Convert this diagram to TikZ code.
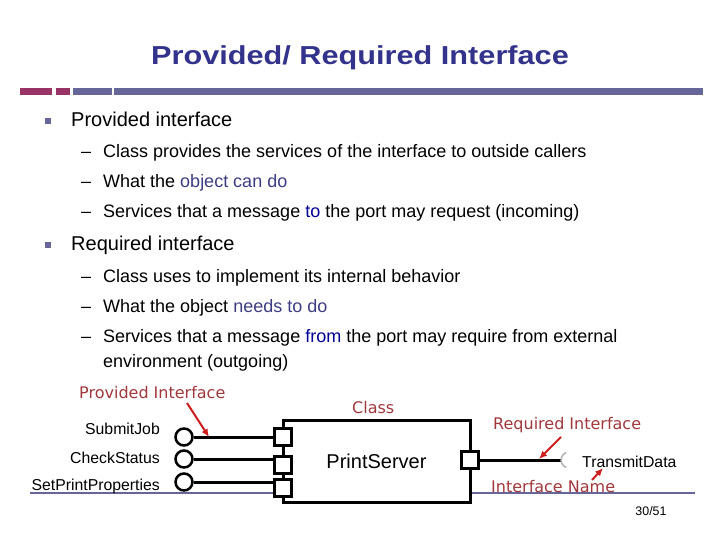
\documentclass[tikz,border=0pt]{standalone}
\usepackage{fontspec}
\setmainfont{Liberation Sans}
\newfontfamily\notefont{DejaVu Sans}
\usetikzlibrary{arrows.meta}
\definecolor{titleblue}{RGB}{51,51,140}
\definecolor{barmagenta}{RGB}{153,51,102}
\definecolor{barslate}{RGB}{102,102,153}
\definecolor{softnavy}{RGB}{60,60,130}
\definecolor{deepnavy}{RGB}{0,0,150}
\definecolor{notered}{RGB}{160,55,60}
\definecolor{pointred}{RGB}{205,30,30}
\newcommand{\objtext}[1]{\textcolor{softnavy}{#1}}
\newcommand{\dirtext}[1]{\textcolor{deepnavy}{#1}}
\newcommand{\subdash}{\makebox[22pt][l]{--}}

\begin{document}
\begin{tikzpicture}[
    x=1pt,y=-1pt,
    heading/.style={anchor=base,text=titleblue,inner sep=0,font=\fontsize{26}{30}\selectfont\bfseries},
    topitem/.style={anchor=base west,inner sep=0,font=\fontsize{20}{24}\selectfont},
    subitem/.style={anchor=base west,inner sep=0,font=\fontsize{18}{22}\selectfont},
    classbox/.style={rectangle,draw,line width=3pt,fill=white,minimum width=187,minimum height=82,
      inner sep=0,font=\fontsize{20}{24}\selectfont},
    port/.style={rectangle,draw,line width=2.5pt,fill=white,minimum size=17,inner sep=0},
    ball/.style={circle,draw,line width=2.5pt,fill=white,minimum size=17,inner sep=0},
    opname/.style={inner sep=0,font=\fontsize{15.8}{18}\selectfont},
    note/.style={anchor=base west,inner sep=0,text=notered,font=\notefont\fontsize{16}{19}\selectfont},
    wire/.style={line width=3pt},
    socket/.style={draw=gray!60,line width=1.5pt},
    pointer/.style={-{Latex[length=8pt,width=7pt]},draw=pointred,fill=pointred,line width=2pt}
  ]
    \useasboundingbox (0,0) rectangle (720,540);

    \node[heading] (title) at (360,65) {\scalebox{1.18}[1]{Provided/ Required Interface}};
    \fill[barmagenta] (20,88) rectangle (52,95);
    \fill[barmagenta] (56,88) rectangle (70,95);
    \fill[barslate] (73,88) rectangle (112,95);
    \fill[barslate] (114,88) rectangle (703,95);

    \fill[barslate] (45,118) rectangle (51,124);
    \fill[barslate] (45,242) rectangle (51,248);
    \node[topitem] (prov) at (71,127) {Provided interface};
    \node[subitem] (prov1) at (81,158) {\subdash Class provides the services of the interface to outside callers};
    \node[subitem] (prov2) at (81,188) {\subdash What the \objtext{object can do}};
    \node[subitem] (prov3) at (81,218) {\subdash Services that a message \dirtext{to} the port may request (incoming)};
    \node[topitem] (req) at (71,251) {Required interface};
    \node[subitem] (req1) at (81,282) {\subdash Class uses to implement its internal behavior};
    \node[subitem] (req2) at (81,312) {\subdash What the object \objtext{needs to do}};
    \node[subitem] (req3) at (81,342) {\subdash Services that a message \dirtext{from} the port may require from external};
    \node[subitem] (req4) at (103,367) {environment (outgoing)};

    \draw[barslate,line width=2pt] (30,493) -- (695,493);

    \node[classbox] (server) at (376.5,461) {PrintServer};
    \node[port] (p1) at (283,437) {};
    \node[port] (p2) at (283,465) {};
    \node[port] (p3) at (283,488) {};
    \node[port] (pr) at (470,460) {};
    \node[ball] (b1) at (184,437) {};
    \node[ball] (b2) at (184,459) {};
    \node[ball] (b3) at (184,482) {};
    \coordinate (sock) at (561,460);

    \draw[wire] (b1.east) -- (b1.east -| p1.west);
    \draw[wire] (b2.east) -- (b2.east -| p2.west);
    \draw[wire] (b3.east) -- (b3.east -| p3.west);
    \draw[wire] (pr.east) -- (sock);
    \draw[socket] ([shift={(5.3,7.5)}]sock) arc[start angle=110,end angle=250,radius=8];

    \node[opname,anchor=base east] (submit) at (160,434) {SubmitJob};
    \node[opname,anchor=base east] (check) at (160,463) {CheckStatus};
    \node[opname,anchor=base east] (setprop) at (160,490) {SetPrintProperties};
    \node[opname,anchor=base west] (transmit) at (582,467) {TransmitData};

    \node[note] (provnote) at (79,398) {Provided Interface};
    \node[note] (classnote) at (352,413) {Class};
    \node[note] (reqnote) at (493,429) {Required Interface};
    \node[note] (namenote) at (491,492) {Interface Name};

    \coordinate (pa) at (187,403);
    \coordinate (pb) at (209,437);
    \coordinate (ra) at (561,437);
    \coordinate (rb) at (539,459);
    \coordinate (na) at (592,480);
    \coordinate (nb) at (603,468);
    \draw[pointer] (pa) -- (pb);
    \draw[pointer] (ra) -- (rb);
    \draw[pointer] (na) -- (nb);

    \node[anchor=base,inner sep=0,font=\fontsize{12.4}{14}\selectfont] (page) at (651,515) {30/51};
  \end{tikzpicture}
\end{document}
